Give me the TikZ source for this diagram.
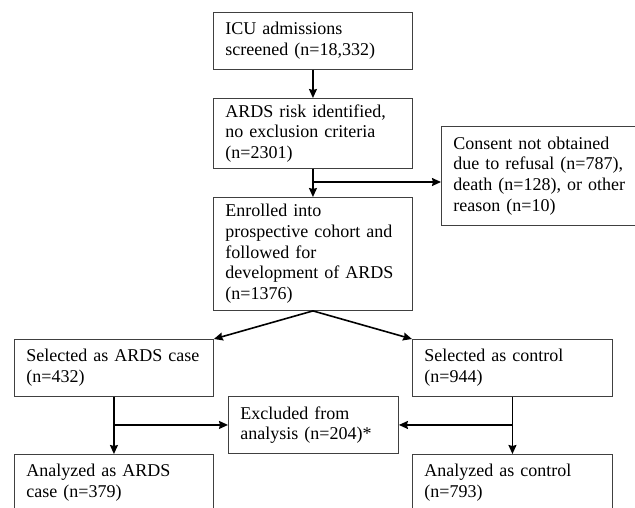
\documentclass[tikz,border=0pt]{standalone}
\usepackage{fontspec}
\setmainfont{Liberation Serif}
\usetikzlibrary{arrows.meta}
\tikzset{
  box/.style={draw=black!75, line width=0.9pt, anchor=north west, align=left,
    inner xsep=12pt, inner ysep=0pt,
    font=\fontsize{18}{20.7}\selectfont},
  arr/.style={line width=1.6pt, -{Stealth[length=9pt,width=8pt,inset=1pt]}}
}
\begin{document}
\begin{tikzpicture}[x=1pt,y=-1pt]
\useasboundingbox[fill=white] (0,0) rectangle (635,507);
\begin{scope}
\clip (0,0) rectangle (635,507);
\node[box, minimum width=199pt, minimum height=57pt, text width=175pt] (icu) at (213,12)
  {ICU admissions\\screened (n=18,332)};
\node[box, minimum width=199pt, minimum height=70pt, text width=175pt] (risk) at (213,98)
  {ARDS risk identified,\\no exclusion criteria\\(n=2301)};
\node[box, minimum width=199pt, minimum height=99pt, text width=175pt] (consent) at (441,126)
  {Consent not obtained\\due to refusal (n=787),\\death (n=128), or other\\reason (n=10)};
\node[box, minimum width=199pt, minimum height=113pt, text width=175pt] (enr) at (213,197)
  {Enrolled into\\prospective cohort and\\followed for\\development of ARDS\\(n=1376)};
\node[box, minimum width=199pt, minimum height=57pt, text width=175pt] (case) at (14,339)
  {Selected as ARDS case\\(n=432)};
\node[box, minimum width=200pt, minimum height=57pt, text width=176pt] (ctrl) at (412,339)
  {Selected as control\\(n=944)};
\node[box, minimum width=170pt, minimum height=57pt, text width=146pt] (excl) at (228,396)
  {Excluded from\\analysis (n=204)*};
\node[box, minimum width=199pt, minimum height=57pt, text width=175pt] (acase) at (14,454)
  {Analyzed as ARDS\\case (n=379)};
\node[box, minimum width=200pt, minimum height=57pt, text width=176pt] (actrl) at (412,454)
  {Analyzed as control\\(n=793)};
\end{scope}
\draw[arr] (icu) -- (risk);
\draw[arr] (risk) -- (enr);
\draw[arr] (risk.south |- 0,182) coordinate (br1) -- (br1 -| consent.west);
\draw[arr] (enr.south) -- (case.north east);
\draw[arr] (enr.south) -- (ctrl.north west);
\draw[arr] (case.south) -- (acase.north);
\draw[arr] (ctrl.south) -- (actrl.north);
\draw[arr] (case.south |- excl.west) -- (excl.west);
\draw[arr] (ctrl.south |- excl.east) -- (excl.east);
\end{tikzpicture}
\end{document}
